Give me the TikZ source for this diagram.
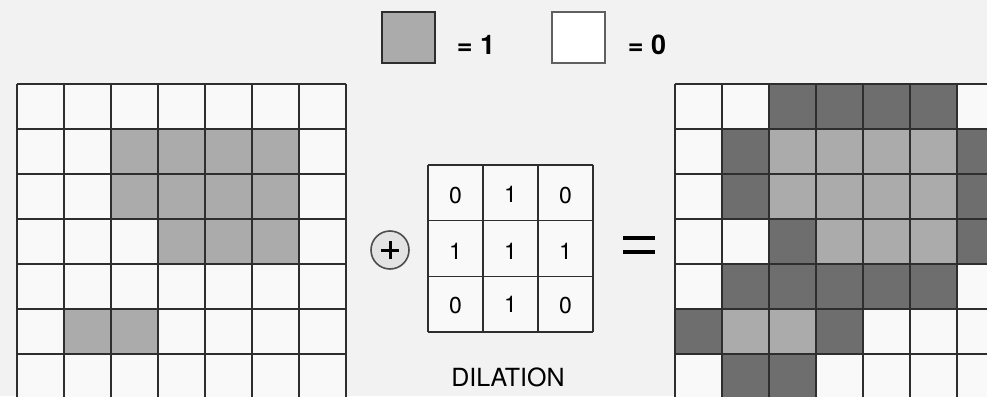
\documentclass[tikz,border=0pt]{standalone}
\usepackage{fontspec}
\setmainfont{TeX Gyre Heros}
\definecolor{bgc}{HTML}{F2F2F2}
\definecolor{cellw}{HTML}{F9F9F9}
\definecolor{lightc}{HTML}{ABABAB}
\definecolor{darkc}{HTML}{6E6E6E}
\definecolor{gridc}{HTML}{2E2E2E}
\begin{document}
\begin{tikzpicture}[x=1pt,y=-1pt,
  gridline/.style={draw=gridc,line width=1.7pt},
  lightcell/.style={fill=lightc},
  darkcell/.style={fill=darkc},
  kernum/.style={font=\fontsize{23}{26}\selectfont, inner sep=0pt},
  legtext/.style={font=\fontsize{27}{30}\selectfont\bfseries, inner sep=0pt}]
\useasboundingbox (0,0) rectangle (987,396);
\clip (0,0) rectangle (987,396);
\fill[bgc] (0,0) rectangle (987,396);

% ---------------- legend ----------------
\fill[lightc] (382,12) rectangle (435,63);
\draw[draw=gridc,line width=2pt] (382,12) rectangle (435,63);
\node[legtext] (one) at (476,45) {= 1};
\fill[white] (552,12) rectangle (605,63);
\draw[draw=gray!75!black,line width=2pt] (552,12) rectangle (605,63);
\node[legtext] (zero) at (647,45) {= 0};

% ---------------- left grid ----------------
\fill[cellw] (17,84) rectangle (346,399);
\foreach \r/\c in {1/2,1/3,1/4,1/5,2/2,2/3,2/4,2/5,3/3,3/4,3/5,5/1,5/2}
  \fill[lightcell] (17+47*\c,84+45*\r) rectangle ++(47,45);
\foreach \i in {0,...,7}
  \draw[gridline] (17+47*\i,84) -- (17+47*\i,399);
\draw[gridline,line width=2.4pt] (252,84) -- (252,399);
\foreach \j in {0,...,7}
  \draw[gridline] (17,84+45*\j) -- (346,84+45*\j);

% ---------------- operator ----------------
\node[circle,draw=gray!60!black,fill=gray!22,line width=1.6pt,minimum size=38pt,inner sep=0pt] (op) at (390,250) {};
\draw[line width=3pt] ([xshift=-9pt]op.center) -- ([xshift=9pt]op.center);
\draw[line width=3pt] ([yshift=-9pt]op.center) -- ([yshift=9pt]op.center);

% ---------------- kernel ----------------
\fill[cellw] (428,165) rectangle (593,332);
\foreach \i in {0,...,3}
  \draw[draw=gridc,line width=1.5pt] (428+55*\i,165) -- (428+55*\i,332);
\foreach \j in {0,...,3}
  \draw[draw=gridc,line width=1.5pt] (428,165+55.67*\j) -- (593,165+55.67*\j);
\node[kernum] (k00) at (455.5,196) {0};
\node[kernum] (k01) at (510.5,194) {1};
\node[kernum] (k02) at (565.5,196) {0};
\node[kernum] (k10) at (455.5,251) {1};
\node[kernum] (k11) at (510.5,251) {1};
\node[kernum] (k12) at (565.5,251) {1};
\node[kernum] (k20) at (455.5,306) {0};
\node[kernum] (k21) at (510.5,304) {1};
\node[kernum] (k22) at (565.5,306) {0};
\node[font=\fontsize{25}{28}\selectfont, inner sep=0pt] (dil) at (508,377) {DILATION};

% ---------------- equals ----------------
\draw[line width=4pt] (623,238) -- (655,238);
\draw[line width=4pt] (623,252) -- (655,252);

% ---------------- right grid ----------------
\fill[cellw] (675,84) rectangle (1004,399);
\foreach \r/\c in {1/2,1/3,1/4,1/5,2/2,2/3,2/4,2/5,3/3,3/4,3/5,5/1,5/2}
  \fill[lightcell] (675+47*\c,84+45*\r) rectangle ++(47,45);
\foreach \r/\c in {0/2,0/3,0/4,0/5,1/1,1/6,2/1,2/6,3/2,3/6,4/1,4/2,4/3,4/4,4/5,5/0,5/3,6/1,6/2}
  \fill[darkcell] (675+47*\c,84+45*\r) rectangle ++(47,45);
\foreach \i in {0,...,7}
  \draw[gridline] (675+47*\i,84) -- (675+47*\i,399);
\foreach \j in {0,...,7}
  \draw[gridline] (675,84+45*\j) -- (1004,84+45*\j);
\end{tikzpicture}
\end{document}
